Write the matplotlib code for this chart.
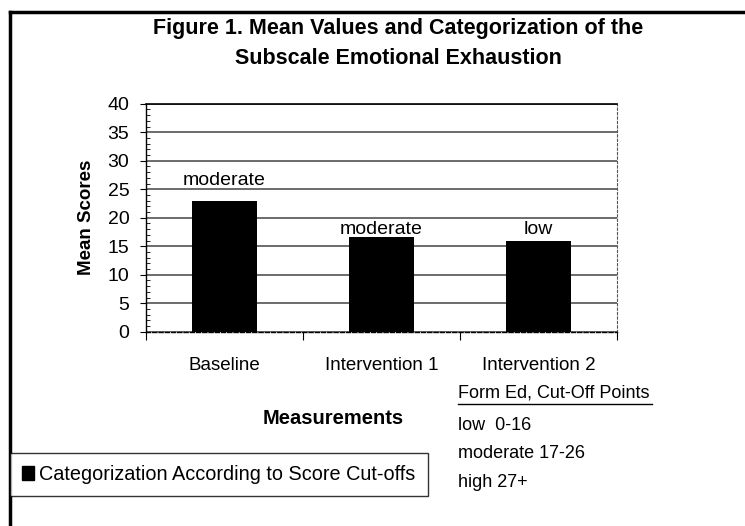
import matplotlib.pyplot as plt
from matplotlib.lines import Line2D
from matplotlib.patches import Patch

plt.rcParams['font.family'] = ['Liberation Sans', 'DejaVu Sans']

# data
measurements = ['Baseline', 'Intervention 1', 'Intervention 2']
mean_scores = [23.0, 16.6, 15.9]
categories = ['moderate', 'moderate', 'low']
cutoff_lines = ['low  0-16', 'moderate 17-26', 'high 27+']

fig = plt.figure(figsize=(7.45, 5.26), dpi=100)
ax = fig.add_axes([0.196, 0.3694, 0.632, 0.4334])

x = range(len(measurements))
ax.bar(x, mean_scores, width=0.41, color='black', zorder=3)

ax.set_xlim(-0.5, 2.5)
ax.set_ylim(0, 40)
ax.set_yticks(range(0, 41, 5))
ax.set_yticks(range(0, 41), minor=True)
ax.yaxis.grid(True, color='#444444', linewidth=1.1, zorder=0)
ax.tick_params(axis='y', which='major', direction='out', length=4, labelsize=14, pad=8)
ax.tick_params(axis='y', which='minor', direction='in', length=3)

# category boundaries as ticks, labels in between
ax.set_xticks([-0.5, 0.5, 1.5, 2.5])
ax.set_xticklabels([])
ax.set_xticks(list(x), minor=True)
ax.set_xticklabels(measurements, minor=True, fontsize=13.5)
ax.tick_params(axis='x', which='major', direction='out', length=6)
ax.tick_params(axis='x', which='minor', length=0, pad=18)

ax.spines['top'].set_color('black')
ax.spines['top'].set_linewidth(1.2)
ax.spines['right'].set_linestyle((0, (2, 2)))
ax.spines['right'].set_linewidth(0.8)
ax.spines['right'].set_color('#555555')
ax.spines['bottom'].set_linestyle((0, (3, 1.5)))
ax.spines['bottom'].set_linewidth(1.0)
ax.spines['left'].set_linewidth(1.0)

ax.set_ylabel('Mean Scores', fontsize=13.5, fontweight='bold', labelpad=9)

# category labels above the bars
offsets = [11, 2, 5]
for i, (v, lab) in enumerate(zip(mean_scores, categories)):
    ax.annotate(lab, (i, v), xytext=(0, offsets[i]), textcoords='offset points',
                ha='center', va='baseline', fontsize=14)

fig.text(0.535, 0.946, 'Figure 1. Mean Values and Categorization of the',
         ha='center', va='center', fontsize=15.5, fontweight='bold')
fig.text(0.535, 0.889, 'Subscale Emotional Exhaustion',
         ha='center', va='center', fontsize=15.5, fontweight='bold')

fig.text(0.447, 0.205, 'Measurements', ha='center', va='center',
         fontsize=14.5, fontweight='bold')

# cut-off point table
fig.text(0.615, 0.252, 'Form Ed, Cut-Off Points', ha='left', va='center', fontsize=13)
fig.add_artist(Line2D([0.615, 0.875], [0.231, 0.231], color='black', linewidth=1.0))
for k, line in enumerate(cutoff_lines):
    fig.text(0.615, 0.192 - k * 0.055, line, ha='left', va='center', fontsize=13)

# legend box
leg = fig.legend(handles=[Patch(facecolor='black', edgecolor='black')],
                 labels=['Categorization According to Score Cut-offs'],
                 loc='center left', bbox_to_anchor=(0.013, 0.098), fontsize=14.3,
                 frameon=True, fancybox=False, handlelength=0.6, handleheight=0.7,
                 handletextpad=0.3, borderpad=0.6, borderaxespad=0)
leg.get_frame().set_edgecolor('black')
leg.get_frame().set_linewidth(1.0)

# outer frame (left and top edges)
fig.add_artist(Line2D([0.013, 0.013], [0.0, 0.978], color='black', linewidth=2.5))
fig.add_artist(Line2D([0.013, 1.0], [0.978, 0.978], color='black', linewidth=2.5))

fig.savefig('out.png', dpi=100)
